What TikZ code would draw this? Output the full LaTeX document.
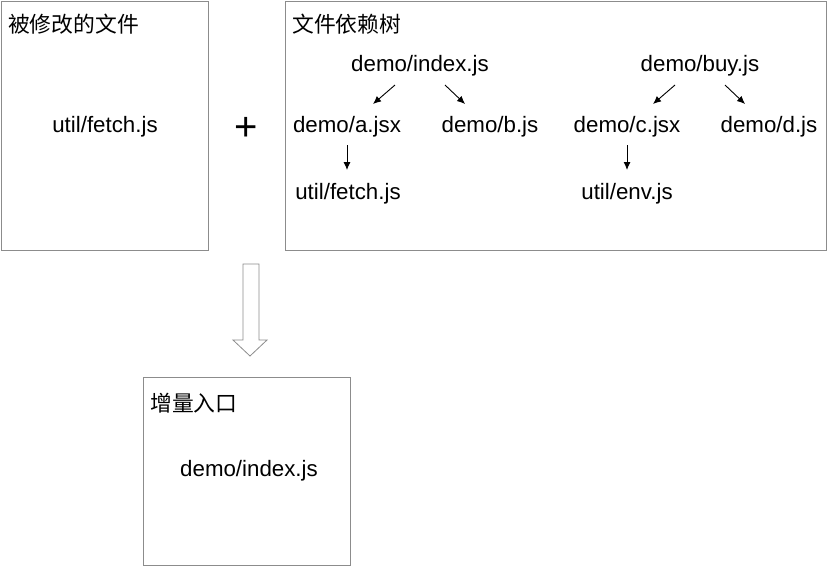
\documentclass[tikz,border=0pt]{standalone}
\usepackage{fontspec}
\setmainfont{Liberation Sans}
\newfontfamily\cjk{Noto Sans CJK SC}
\usetikzlibrary{arrows.meta}
\begin{document}
\begin{tikzpicture}[x=1pt,y=-1pt,
  box/.style={draw=black!45,line width=0.8pt},
  lbl/.style={font=\fontsize{22.3}{24}\selectfont,inner sep=0pt},
  ttl/.style={font=\cjk\fontsize{21.8}{24}\selectfont,inner sep=0pt,anchor=west},
  arr/.style={-{Latex[length=8pt,width=7pt]},line width=0.9pt}]
\useasboundingbox (0,0) rectangle (827,566);
\draw[box] (1,1) rectangle (208,250);
\draw[box] (285,1) rectangle (826,250);
\draw[box] (143,377) rectangle (350,565);
\node[ttl] (t1) at (8,24) {被修改的文件};
\node[ttl] (t2) at (292,24) {文件依赖树};
\node[ttl] (t3) at (150,403) {增量入口};
\node[lbl] (f1) at (105,127) {util/fetch.js};
\node[lbl] (e3) at (249,471) {demo/index.js};
\node[font=\fontsize{40}{40}\selectfont,inner sep=0pt] (plus) at (246,129) {+};
\node[lbl] (idx) at (420,66) {demo/index.js};
\node[lbl] (a) at (347,127) {demo/a.jsx};
\node[lbl] (b) at (490,127) {demo/b.js};
\node[lbl] (fe) at (348,194) {util/fetch.js};
\node[lbl] (buy) at (700,66) {demo/buy.js};
\node[lbl] (c) at (627,127) {demo/c.jsx};
\node[lbl] (d) at (769,127) {demo/d.js};
\node[lbl] (env) at (627,194) {util/env.js};
\coordinate (p1) at (395,85); \coordinate (q1) at (373,104);
\coordinate (p2) at (445,85); \coordinate (q2) at (465,104);
\coordinate (p3) at (675,85); \coordinate (q3) at (653,104);
\coordinate (p4) at (725,85); \coordinate (q4) at (745,104);
\coordinate (p5) at (347,145); \coordinate (q5) at (347,170);
\coordinate (p6) at (627,145); \coordinate (q6) at (627,170);
\foreach \i in {1,...,6} {\draw[arr] (p\i) -- (q\i);}
\draw[draw=black!45,line width=0.8pt,fill=white] (243,264) -- (259,264) -- (259,340) -- (267,340) -- (250,356) -- (233,340) -- (243,340) -- cycle;
\end{tikzpicture}
\end{document}
